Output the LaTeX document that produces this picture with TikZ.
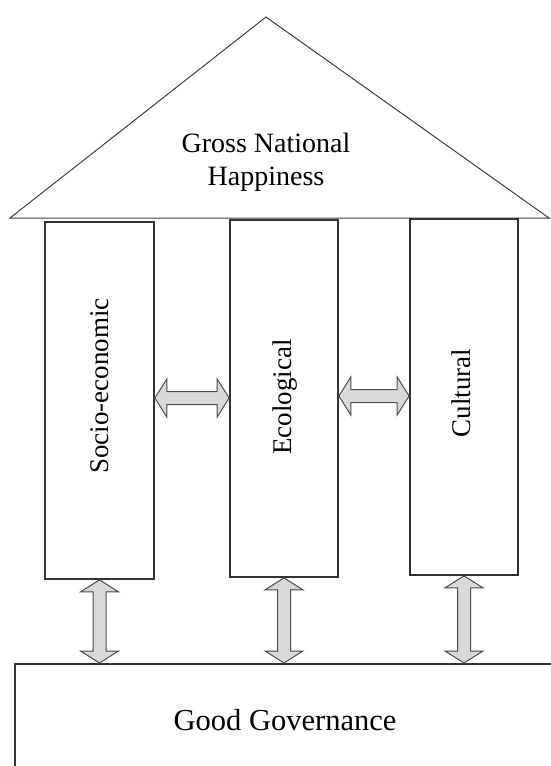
\documentclass[tikz,border=0pt]{standalone}
\usepackage{fontspec}
\setmainfont{Liberation Serif}
\usetikzlibrary{calc}
\tikzset{
  pillar/.style={draw=black!80, line width=1.7pt, fill=white, inner sep=0pt},
  roof/.style={draw=black!75, line width=1pt},
  ggbox/.style={draw=black!80, line width=1.7pt},
  arrowbody/.style={draw=black!70, fill=black!15, line width=1pt, line join=miter},
  label/.style={inner sep=0pt, align=center}
}
\newcommand{\dblH}[2]{%
  \draw[arrowbody] let \p1=#1, \p2=#2 in
    (\x1,\y1) -- (\x1+12pt,\y1+19pt) -- (\x1+12pt,\y1+6.5pt) -- (\x2-12pt,\y1+6.5pt)
    -- (\x2-12pt,\y1+19pt) -- (\x2,\y1) -- (\x2-12pt,\y1-19pt) -- (\x2-12pt,\y1-6.5pt)
    -- (\x1+12pt,\y1-6.5pt) -- (\x1+12pt,\y1-19pt) -- cycle;}
\newcommand{\dblV}[2]{%
  \draw[arrowbody] let \p1=#1, \p2=#2 in
    (\x1,\y1) -- (\x1+19pt,\y1-12pt) -- (\x1+6.5pt,\y1-12pt) -- (\x1+6.5pt,\y2+12pt)
    -- (\x1+19pt,\y2+12pt) -- (\x1,\y2) -- (\x1-19pt,\y2+12pt) -- (\x1-6.5pt,\y2+12pt)
    -- (\x1-6.5pt,\y1-12pt) -- (\x1-19pt,\y1-12pt) -- cycle;}
\begin{document}
\begin{tikzpicture}[x=1pt,y=-1pt]
  \useasboundingbox (0,0) rectangle (551,766);
  \clip (0,0) rectangle (551,766);
  \fill[white] (0,0) rectangle (551,766);

  % roof
  \coordinate (rl) at (10,218);
  \coordinate (rt) at (266,17);
  \coordinate (rr) at (549,218);
  \draw[roof] (rl) -- (rt) -- (rr) -- cycle;
  \node[label, font=\fontsize{28}{33}\selectfont] (gnh) at (266,162) {Gross National\\Happiness};

  % pillars
  \node[pillar, minimum width=109, minimum height=357] (s) at (99.5,400.5) {};
  \node[pillar, minimum width=108, minimum height=357] (e) at (284,398.5) {};
  \node[pillar, minimum width=108, minimum height=356] (c) at (464,397) {};
  \node[label, rotate=90, font=\fontsize{27}{32}\selectfont] (st) at (100,386) {Socio-economic};
  \node[label, rotate=90, font=\fontsize{27}{32}\selectfont] (et) at (285,397) {Ecological};
  \node[label, rotate=90, font=\fontsize{27}{32}\selectfont] (ct) at (461,393) {Cultural};

  % foundation
  \node[ggbox, inner sep=0pt, minimum width=600, minimum height=200, anchor=north west] (gg) at (14,663) {};
  \node[label, font=\fontsize{30.5}{35}\selectfont] (ggt) at (285,720) {Good Governance};

  % horizontal arrows
  \coordinate (h1a) at (s.east |- 0,398);
  \coordinate (h1b) at (e.west |- 0,398);
  \coordinate (h2a) at (e.east |- 0,396);
  \coordinate (h2b) at (c.west |- 0,396);
  \dblH{(h1a)}{(h1b)}
  \dblH{(h2a)}{(h2b)}

  % vertical arrows
  \coordinate (v1a) at (s.south);
  \coordinate (v1b) at (s.south |- gg.north);
  \coordinate (v2a) at (e.south);
  \coordinate (v2b) at (e.south |- gg.north);
  \coordinate (v3a) at (c.south);
  \coordinate (v3b) at (c.south |- gg.north);
  \dblV{(v1a)}{(v1b)}
  \dblV{(v2a)}{(v2b)}
  \dblV{(v3a)}{(v3b)}
\end{tikzpicture}
\end{document}
